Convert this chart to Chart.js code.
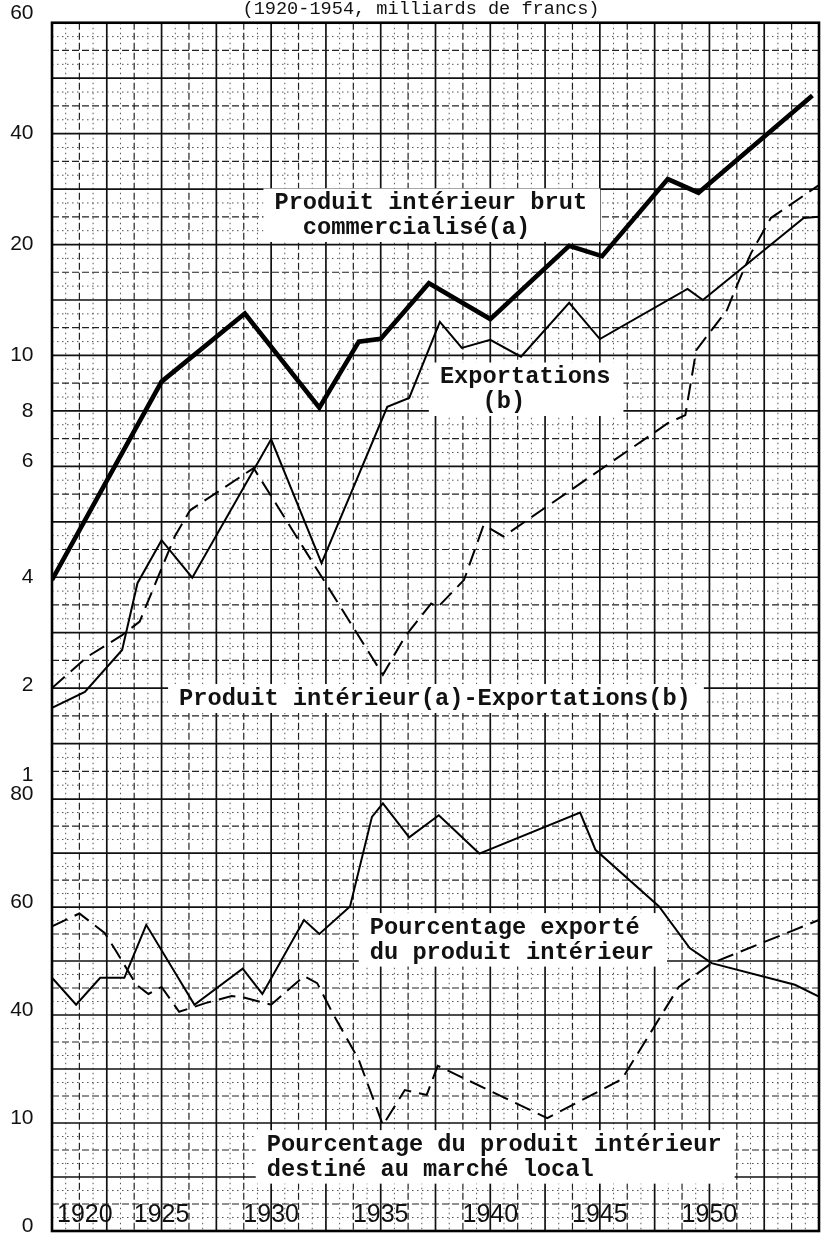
<!DOCTYPE html>
<html>
<head>
<meta charset="utf-8">
<script src="https://cdn.jsdelivr.net/npm/chart.js@4.4.1/dist/chart.umd.min.js"></script>
<style>
  html, body { margin: 0; padding: 0; background: #fff; }
</style>
</head>
<body>
<canvas id="chart" width="823" height="1233"></canvas>
<script>
// ---- axes ----
const TOP_TICKS = [60, 40, 20, 10, 8, 6, 4, 2, 1];
// graph-paper row (0 = top frame line) on which each upper label is printed
const TOP_TICK_ROWS = [-0.17, 2, 4, 6, 7, 7.9, 10, 11.95, 13.57];
const BOTTOM_TICKS = [0, 20, 40, 60, 80];
const BOTTOM_TICK_LABELS = ['0', '10', '40', '60', '80'];
const YEAR_TICKS = [1920, 1925, 1930, 1935, 1940, 1945, 1950];

// ---- series (milliards de francs) ----
const PIB_YEARS  = [1920, 1925, 1928.8, 1932.2, 1934, 1935, 1937.2, 1940, 1943.6, 1945.1, 1948.1, 1949.5, 1954.7];
const PIB_VALUES = [3.93, 9.0, 13.0, 8.1, 10.9, 11.1, 15.7, 12.55, 19.85, 18.6, 30.1, 27.65, 45.5];

const EXP_YEARS  = [1920, 1921.5, 1923.2, 1923.9, 1925, 1926.4, 1930, 1932.3, 1935.3, 1936.3, 1937.7, 1938.7, 1940, 1941.4, 1943.6, 1945, 1949, 1949.7, 1954.3, 1955];
const EXP_VALUES = [1.68, 1.9, 2.51, 3.85, 4.55, 3.99, 6.79, 4.2, 8.13, 8.43, 12.33, 10.48, 11.02, 9.95, 13.9, 11.08, 15.16, 14.14, 23.6, 23.8];

const DIFF_YEARS  = [1920, 1921.6, 1923.2, 1924, 1925.6, 1926.3, 1929.2, 1935.1, 1936.1, 1937.3, 1937.6, 1938.8, 1939.7, 1940.6, 1948.1, 1948.9, 1949.4, 1950.8, 1951.3, 1951.9, 1952.8, 1955];
const DIFF_VALUES = [1.96, 2.4, 2.76, 3.01, 4.61, 5.05, 5.85, 2.14, 2.73, 3.38, 3.3, 3.93, 4.8, 4.61, 7.45, 7.81, 10.34, 13.28, 15.72, 18.96, 23.6, 29.0];

// ---- series (pourcentages) ----
const PCT_EXP_YEARS  = [1920, 1921.1, 1922.2, 1923.3, 1924.3, 1926.5, 1928.7, 1929.6, 1931.5, 1932.2, 1933.6, 1934.6, 1935.1, 1936.3, 1937.65, 1939.5, 1944.1, 1944.8, 1947.7, 1949.1, 1950.1, 1953.9, 1955];
const PCT_EXP_VALUES = [46.9, 41.9, 46.9, 46.9, 56.7, 41.9, 48.6, 43.9, 57.6, 55.0, 60.1, 76.7, 79.2, 72.9, 77.0, 69.9, 77.5, 70.6, 60.1, 52.4, 49.6, 45.6, 43.4];

const PCT_LOC_YEARS  = [1920, 1921.25, 1922.4, 1922.9, 1923.85, 1924.4, 1925, 1925.8, 1927, 1928.2, 1928.8, 1930, 1931.5, 1932.1, 1932.8, 1934, 1935.1, 1936.1, 1937.1, 1937.6, 1942.6, 1946, 1948.6, 1950.1, 1955];
const PCT_LOC_VALUES = [56.4, 58.8, 55.2, 52.0, 45.6, 43.9, 45.2, 40.6, 42.2, 43.5, 43.2, 41.9, 47.2, 45.9, 40.4, 31.7, 19.6, 26.1, 25.2, 30.6, 20.9, 28.1, 45.2, 49.6, 57.6];

const TITLE = '(1920-1954, milliards de francs)';

// text blocks placed in data coordinates
const NOTES = [
  { lines: ['Produit intérieur brut', '  commercialisé(a)'], year: 1930.15, axis: 'y', value: 25.85 },
  { lines: ['Exportations', '   (b)'], year: 1937.7, axis: 'y', value: 9.15 },
  { lines: ['Produit intérieur(a)-Exportations(b)'], year: 1925.8, axis: 'y', value: 1.8 },
  { lines: ['Pourcentage exporté', 'du produit intérieur'], year: 1934.5, axis: 'y2', value: 56.1 },
  { lines: ['Pourcentage du produit intérieur', 'destiné au marché local'], year: 1929.8, axis: 'y2', value: 15.9 },
];

// upper scale: labels sit at fixed rows of the graph paper, log-interpolated between them
class KnotScale extends Chart.Scale {
  static id = 'knot';
  static defaults = {};
  determineDataLimits() { this.min = 1; this.max = 60; }
  buildTicks() { return TOP_TICKS.map(v => ({ value: v })); }
  getLabelForValue(v) { return String(v); }
  rowForValue(v) {
    let i = 0;
    while (i < TOP_TICKS.length - 2 && v < TOP_TICKS[i + 1]) i++;
    const a = TOP_TICKS[i], b = TOP_TICKS[i + 1];
    const t = Math.log(a / v) / Math.log(a / b);
    return TOP_TICK_ROWS[i] + t * (TOP_TICK_ROWS[i + 1] - TOP_TICK_ROWS[i]);
  }
  getPixelForRow(r) {
    const { rowMin, rowMax } = this.options;
    return this.getPixelForDecimal((rowMax - r) / (rowMax - rowMin));
  }
  getPixelForValue(v) { return this.getPixelForRow(this.rowForValue(v)); }
  getValueForPixel(p) {
    const { rowMin, rowMax } = this.options;
    const r = rowMax - this.getDecimalForPixel(p) * (rowMax - rowMin);
    let i = 0;
    while (i < TOP_TICK_ROWS.length - 2 && r > TOP_TICK_ROWS[i + 1]) i++;
    const t = (r - TOP_TICK_ROWS[i]) / (TOP_TICK_ROWS[i + 1] - TOP_TICK_ROWS[i]);
    return TOP_TICKS[i] * Math.pow(TOP_TICKS[i + 1] / TOP_TICKS[i], t);
  }
}
Chart.register(KnotScale);

const MONO = '"Liberation Mono", "DejaVu Sans Mono", monospace';
const SANS = '"Liberation Sans", Arial, sans-serif';

function strokeLine(ctx, x1, y1, x2, y2, width, dash, color) {
  ctx.beginPath();
  ctx.lineWidth = width;
  ctx.strokeStyle = color;
  ctx.setLineDash(dash);
  ctx.moveTo(x1, y1);
  ctx.lineTo(x2, y2);
  ctx.stroke();
}

function gridStyle(k) {
  if (k % 4 === 0) return [1.7, [], '#111'];
  if (k % 2 === 0) return [1.2, [7, 3], '#222'];
  return [1, [1.5, 3.5], '#555'];
}

const paperPlugin = {
  id: 'paper',
  beforeDatasetsDraw(chart) {
    const { ctx, chartArea: area, scales: { x, y, y2 } } = chart;
    const left = area.left, right = area.right, bottom = area.bottom;
    const top = y.getPixelForRow(0);
    ctx.save();
    ctx.beginPath();
    ctx.rect(left, top, right - left, bottom - top);
    ctx.clip();

    // vertical lines every 2.5 years, subdivided in 4
    for (let k = 0; k <= 56; k++) {
      const px = x.getPixelForValue(1920 + k * 0.625);
      const [w, d, c] = gridStyle(k);
      strokeLine(ctx, px, top, px, bottom, w, d, c);
    }
    // upper panel rows
    for (let k = 0; k <= 56; k++) {
      const py = y.getPixelForRow(k / 4);
      const [w, d, c] = gridStyle(k);
      strokeLine(ctx, left, py, right, py, w, d, c);
    }
    // lower panel: 10 points per row
    for (let k = 0; k < 32; k++) {
      const py = y2.getPixelForValue(k * 2.5);
      const [w, d, c] = gridStyle(k);
      strokeLine(ctx, left, py, right, py, w, d, c);
    }

    // text blocks on white
    ctx.setLineDash([]);
    ctx.font = 'bold 23.7px ' + MONO;
    ctx.textBaseline = 'middle';
    ctx.textAlign = 'left';
    for (const n of NOTES) {
      const tx = x.getPixelForValue(n.year);
      const ty = chart.scales[n.axis].getPixelForValue(n.value);
      const w = Math.max(...n.lines.map(l => ctx.measureText(l).width));
      const h = (n.lines.length - 1) * 24.5;
      ctx.fillStyle = '#fff';
      ctx.fillRect(tx - 11, ty - 15, w + 24, h + 29);
      ctx.fillStyle = '#111';
      n.lines.forEach((l, i) => ctx.fillText(l, tx, ty + i * 24.5));
    }

    // years, printed inside the frame
    ctx.font = '25px ' + SANS;
    ctx.textAlign = 'center';
    ctx.fillStyle = '#111';
    for (const yr of YEAR_TICKS) {
      const tw = ctx.measureText(String(yr)).width;
      const px = Math.max(x.getPixelForValue(yr), left + 5 + tw / 2);
      ctx.fillText(String(yr), px, bottom - 16);
    }
    ctx.restore();

    // frame
    ctx.save();
    ctx.lineWidth = 2.6;
    ctx.strokeStyle = '#000';
    ctx.strokeRect(left, top, right - left, bottom - top);
    ctx.restore();
  },
  afterDraw(chart) {
    const { ctx } = chart;
    ctx.save();
    ctx.font = '18.6px ' + MONO;
    ctx.fillStyle = '#111';
    ctx.textAlign = 'center';
    ctx.textBaseline = 'alphabetic';
    ctx.fillText(TITLE, 421, 13.5);
    ctx.restore();
  },
};

function series(label, years, values, axis, width, dash) {
  return {
    label,
    data: years.map((yr, i) => ({ x: yr, y: values[i] })),
    yAxisID: axis,
    borderColor: '#000',
    borderWidth: width,
    borderDash: dash,
    borderJoinStyle: 'miter',
    pointRadius: 0,
    tension: 0,
    fill: false,
  };
}

function fitLeft(axis) {
  axis.width = 52;
  axis.paddingTop = 0;
  axis.paddingBottom = 0;
}

const TICK_FONT = { family: SANS, size: 21 };

new Chart(document.getElementById('chart'), {
  type: 'line',
  data: {
    datasets: [
      series('Produit intérieur brut commercialisé(a)', PIB_YEARS, PIB_VALUES, 'y', 4.6, []),
      series('Exportations (b)', EXP_YEARS, EXP_VALUES, 'y', 2, []),
      series('Produit intérieur(a)-Exportations(b)', DIFF_YEARS, DIFF_VALUES, 'y', 2, [17, 8]),
      series('Pourcentage exporté du produit intérieur', PCT_EXP_YEARS, PCT_EXP_VALUES, 'y2', 2, []),
      series('Pourcentage du produit intérieur destiné au marché local', PCT_LOC_YEARS, PCT_LOC_VALUES, 'y2', 2, [17, 8]),
    ],
  },
  options: {
    responsive: false,
    animation: false,
    events: [],
    layout: { autoPadding: false, padding: { top: 6.1, right: 4, bottom: 2, left: 0 } },
    plugins: { legend: { display: false }, tooltip: { enabled: false }, title: { display: false } },
    scales: {
      x: { type: 'linear', min: 1920, max: 1955, display: false },
      // lower panel first: left-hand stacks are laid out from the last scale down
      y2: {
        type: 'linear', position: 'left', stack: 'left', stackWeight: 432,
        min: 0, max: 80,
        grid: { display: false, drawTicks: false }, border: { display: false },
        afterBuildTicks: axis => { axis.ticks = BOTTOM_TICKS.map(v => ({ value: v })); },
        ticks: {
          autoSkip: false, padding: 18.5, labelOffset: -5, color: '#111', font: TICK_FONT,
          callback: v => BOTTOM_TICK_LABELS[BOTTOM_TICKS.indexOf(v)],
        },
        afterFit: fitLeft,
      },
      y: {
        type: 'knot', position: 'left', stack: 'left', stackWeight: 793,
        rowMin: -0.3, rowMax: 14,
        grid: { display: false, drawTicks: false }, border: { display: false },
        ticks: { autoSkip: false, padding: 18.5, color: '#111', font: TICK_FONT },
        afterFit: fitLeft,
      },
    },
  },
  plugins: [paperPlugin],
});
</script>
</body>
</html>
